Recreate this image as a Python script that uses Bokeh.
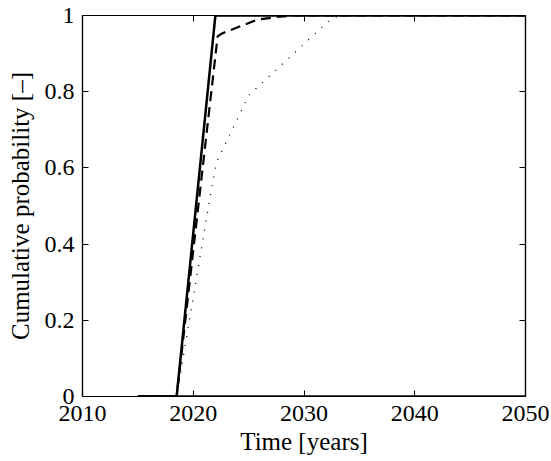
from bokeh.plotting import figure
from bokeh.models import LinearAxis, FixedTicker, CustomJSTickFormatter, Range1d
from bokeh.embed import file_html
from bokeh.resources import INLINE

# Data
solid_years = [2015, 2018.5, 2022.0, 2050]
solid_prob = [0.0, 0.0, 1.0, 1.0]

dashed_years = [2015, 2018.5, 2022.2, 2022.6, 2024.9, 2025.8, 2027.5, 2029.0, 2050]
dashed_prob = [0.0, 0.0, 0.945, 0.953, 0.979, 0.989, 0.996, 1.0, 1.0]

dotted_years = [2015, 2018.5, 2021.5, 2022.1, 2025.0, 2032.4, 2033.2, 2050]
dotted_prob = [0.0, 0.0, 0.52, 0.615, 0.79, 0.99, 1.0, 1.0]

zero_years = [2015, 2050]
zero_prob = [0.0, 0.0]

x_ticks = [2010, 2020, 2030, 2040, 2050]
y_ticks = [0, 0.2, 0.4, 0.6, 0.8, 1.0]

FONT = "'Liberation Serif', 'Times New Roman', serif"

p = figure(width=551, height=461, output_backend="svg", toolbar_location=None,
           x_range=Range1d(2010, 2050), y_range=Range1d(0, 1),
           min_border_left=82, min_border_right=26, min_border_top=15, min_border_bottom=65)
p.frame_width = 443
p.frame_height = 381
p.grid.visible = False
p.outline_line_color = "black"
p.outline_line_width = 1.2
p.background_fill_color = "white"
p.border_fill_color = "white"

p.line(zero_years, zero_prob, line_color="black", line_width=2.5)
p.line(dotted_years, dotted_prob, line_color="black", line_width=1.3, line_dash="1 8")
p.line(dashed_years, dashed_prob, line_color="black", line_width=2.2, line_dash="10 6")
p.line(solid_years, solid_prob, line_color="black", line_width=2.5)

fmt = CustomJSTickFormatter(code="return String(Math.round(tick*10)/10);")
blank = CustomJSTickFormatter(code="return '';")

for ax in p.xaxis:
    ax.ticker = FixedTicker(ticks=x_ticks)
    ax.axis_label = "Time [years]"
for ax in p.yaxis:
    ax.ticker = FixedTicker(ticks=y_ticks)
    ax.formatter = fmt
    ax.axis_label = "Cumulative probability [\u2013]"

for ax in list(p.xaxis) + list(p.yaxis):
    ax.major_tick_in = 6
    ax.major_tick_out = 0
    ax.minor_tick_in = 0
    ax.minor_tick_out = 0
    ax.axis_line_color = "black"
    ax.axis_line_width = 1.2
    ax.major_tick_line_width = 1
    ax.major_label_text_font = FONT
    ax.major_label_text_font_size = "24px"
    ax.major_label_text_color = "black"
    ax.axis_label_text_font = FONT
    ax.axis_label_text_font_size = "25px"
    ax.axis_label_text_font_style = "normal"
    ax.axis_label_text_color = "black"

p.xaxis.major_label_standoff = 9
p.xaxis.axis_label_standoff = 4
p.yaxis.major_label_standoff = 8
p.yaxis.axis_label_standoff = 8

top = LinearAxis(ticker=FixedTicker(ticks=x_ticks), formatter=blank,
                 major_tick_in=6, major_tick_out=0, minor_tick_in=0, minor_tick_out=0,
                 axis_line_width=1.2, major_label_standoff=0)
right = LinearAxis(ticker=FixedTicker(ticks=y_ticks), formatter=blank,
                   major_tick_in=6, major_tick_out=0, minor_tick_in=0, minor_tick_out=0,
                   axis_line_width=1.2, major_label_standoff=0)
p.add_layout(top, "above")
p.add_layout(right, "right")

open("out.html", "w").write(file_html(p, INLINE))
